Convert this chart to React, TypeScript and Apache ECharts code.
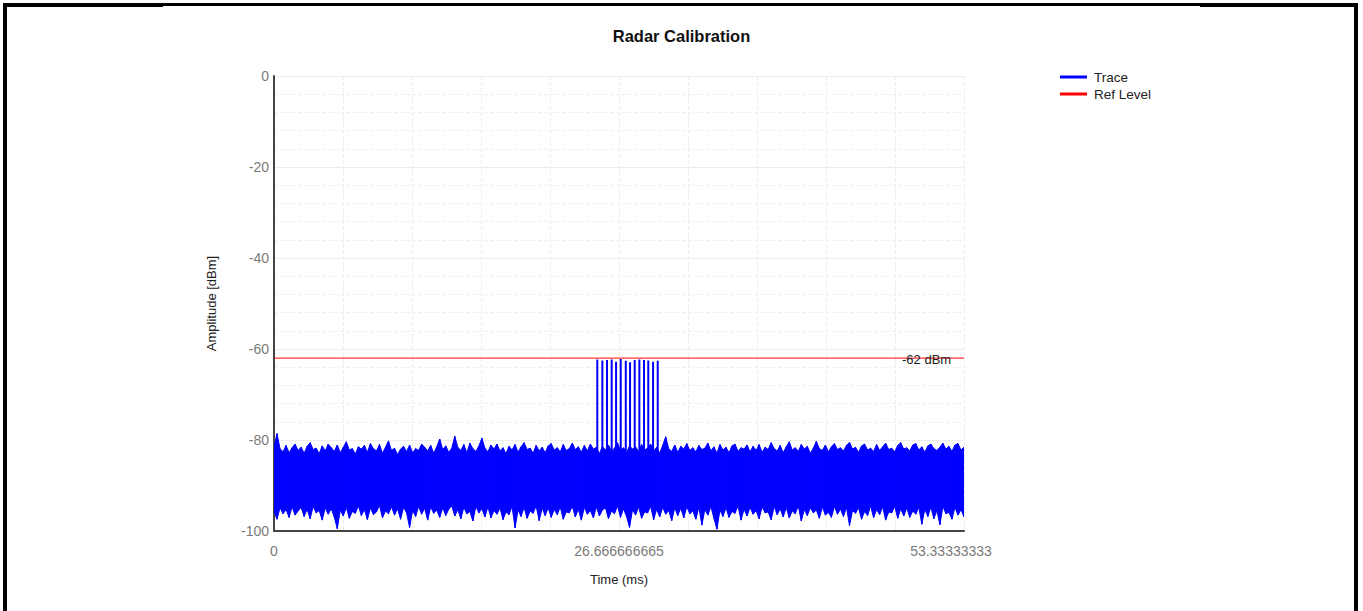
import React, { useEffect, useRef } from "react";
import * as echarts from "echarts";

// ---- Data ----
const TITLE = "Radar Calibration";
const X_NAME = "Time (ms)";
const Y_NAME = "Amplitude [dBm]";
const X_MIN = 0;
const X_MAX = 53.33333333;
const X_INTERVAL = 5.333333333;
const X_TICK_LABELS = ["0", "26.666666665", "53.33333333"];
const Y_MIN = -100;
const Y_MAX = 0;
const Y_INTERVAL = 20;
const REF_LEVEL = -62;
const REF_LABEL = "-62 dBm";

// Noise envelope of the trace (upper peaks / lower troughs), read column by column
const TRACE_UPPER = [
  -81.5, -78.6, -81.9, -82.6, -81.2, -82.8, -81.7, -80.9, -82.3, -81.6,
  -82.9, -81.4, -80.6, -82.1, -81.8, -83.0, -81.3, -82.4, -80.9, -81.7,
  -82.5, -81.1, -82.8, -81.6, -80.4, -82.2, -81.9, -83.1, -81.5, -82.0,
  -81.2, -82.7, -80.8, -81.9, -82.4, -81.0, -82.9, -81.6, -80.2, -82.3,
  -81.8, -83.2, -82.0, -81.4, -82.6, -81.1, -82.8, -81.9, -82.3, -80.9,
  -81.6, -82.4, -81.2, -82.9, -81.5, -79.8, -82.1, -81.3, -82.7, -81.8,
  -79.2, -81.6, -82.3, -81.0, -82.8, -80.7, -81.9, -82.5, -81.3, -79.6,
  -81.8, -82.6, -81.1, -82.0, -80.9, -82.4, -81.7, -83.0, -81.4, -82.2,
  -81.0, -82.7, -81.5, -80.6, -82.1, -81.8, -82.9, -81.2, -82.4, -81.6,
  -82.8, -81.3, -80.8, -82.2, -81.7, -82.6, -81.0, -82.3, -81.9, -80.7,
  -82.1, -81.5, -82.7, -81.2, -82.4, -80.9, -82.0, -81.6, -83.0, -81.4,
  -82.2, -81.1, -82.5, -81.8, -80.6, -82.3, -81.7, -82.8, -81.3, -82.0,
  -81.5, -82.6, -81.0, -82.2, -81.8, -80.9, -82.4, -81.6, -82.9, -81.2,
  -79.3, -81.9, -82.5, -81.1, -82.7, -81.4, -82.0, -80.8, -82.3, -81.7,
  -82.6, -81.2, -82.1, -81.8, -80.7, -82.4, -81.5, -82.9, -81.0, -82.2,
  -81.6, -82.8, -81.3, -80.9, -82.5, -81.7, -82.0, -81.1, -82.6, -81.4,
  -82.3, -81.0, -82.7, -81.6, -82.1, -80.6, -81.9, -82.4, -81.2, -82.8,
  -81.5, -80.4, -82.2, -81.7, -82.5, -81.0, -82.0, -81.4, -82.9, -81.8,
  -80.3, -81.9, -82.3, -81.1, -82.6, -81.5, -80.8, -82.1, -81.7, -82.4,
  -81.2, -80.5, -82.0, -81.6, -82.7, -81.3, -80.9, -82.2, -81.8, -82.5,
  -81.0, -82.3, -81.5, -80.7, -82.1, -81.8, -82.6, -81.2, -80.6, -82.0,
  -81.7, -82.4, -81.1, -80.8, -82.2, -81.5, -82.7, -81.3, -80.9, -81.9,
  -82.3, -81.6, -80.7, -82.0, -81.4, -82.5, -81.1, -80.8, -82.2, -81.6,
];
const TRACE_LOWER = [
  -95.8, -97.4, -94.9, -96.2, -95.3, -97.0, -94.7, -96.5, -95.6, -94.8,
  -96.8, -95.2, -97.3, -94.6, -96.0, -95.5, -97.6, -94.9, -96.3, -95.1,
  -96.9, -99.5, -95.4, -96.7, -94.8, -97.2, -95.7, -96.1, -94.5, -96.6,
  -95.3, -97.5, -94.9, -96.4, -95.8, -94.4, -97.1, -95.6, -96.2, -94.7,
  -96.5, -95.1, -97.4, -94.8, -96.0, -99.2, -95.5, -96.8, -94.6, -96.3,
  -95.0, -97.6, -94.7, -96.1, -95.4, -97.0, -94.9, -96.6, -95.2, -94.5,
  -96.7, -95.3, -97.3, -94.8, -96.2, -95.7, -97.8, -94.6, -96.0, -95.1,
  -96.9, -94.7, -97.1, -95.5, -96.3, -94.9, -97.5, -95.8, -96.4, -94.6,
  -99.3, -95.4, -96.8, -94.8, -97.2, -95.6, -96.1, -94.5, -97.7, -95.0,
  -96.6, -94.9, -97.0, -95.3, -96.4, -94.7, -97.4, -95.8, -96.0, -94.6,
  -96.9, -95.2, -97.6, -94.8, -96.3, -95.5, -97.1, -94.7, -96.7, -95.4,
  -94.9, -97.3, -95.6, -96.2, -94.5, -97.0, -95.1, -96.8, -99.2, -95.3,
  -96.5, -94.7, -97.2, -95.8, -96.0, -94.6, -97.5, -95.2, -96.9, -94.8,
  -96.3, -95.5, -97.7, -94.9, -96.6, -95.0, -97.1, -94.7, -96.2, -95.6,
  -97.4, -94.8, -98.7, -95.3, -96.5, -94.6, -97.2, -99.6, -95.4, -96.8,
  -94.9, -97.0, -95.7, -96.1, -94.5, -97.6, -95.2, -96.7, -94.8, -96.3,
  -95.5, -97.3, -94.7, -96.0, -95.8, -97.5, -94.6, -96.4, -95.1, -96.9,
  -94.8, -97.1, -95.6, -96.2, -94.5, -97.8, -95.3, -96.6, -94.9, -96.0,
  -95.4, -97.2, -94.7, -96.5, -95.9, -97.0, -94.6, -96.3, -95.2, -96.8,
  -94.8, -98.8, -95.5, -96.1, -94.9, -97.4, -95.7, -96.6, -94.5, -97.1,
  -95.3, -96.4, -94.7, -97.6, -95.8, -96.0, -94.6, -97.2, -95.1, -96.7,
  -94.9, -97.0, -95.6, -96.3, -94.8, -98.5, -95.2, -96.8, -94.7, -97.3,
  -95.5, -98.6, -94.6, -96.2, -95.9, -97.4, -94.8, -96.5, -95.3, -96.9,
];
// Radar pulses (time in ms, peak in dBm) and the level they rise from
const PULSE_TIMES = [
  24.99, 25.38, 25.74, 26.1, 26.44, 26.8, 27.19, 27.52, 27.88, 28.24, 28.6, 28.93, 29.3, 29.66,
];
const PULSE_PEAKS = [
  -62.3, -62.5, -62.4, -62.3, -62.8, -62.2, -62.6, -62.9, -62.4, -62.3, -62.4, -62.5, -62.8, -62.6,
];
const PULSE_BASE = -88;

const FONT = "'Liberation Sans', Arial, sans-serif";

export default function App() {
  const ref = useRef<HTMLDivElement>(null);

  useEffect(() => {
    if (!ref.current) return;
    const chart = echarts.init(ref.current, undefined, { renderer: "svg" });

    const n = TRACE_UPPER.length;
    const dt = (X_MAX - X_MIN) / (n - 1);
    const bandData: number[][] = [];
    for (let i = 0; i < n; i++) {
      bandData.push([X_MIN + i * dt, TRACE_UPPER[i], TRACE_LOWER[i]]);
    }
    const pulseData: number[][] = [];
    PULSE_TIMES.forEach((t, i) => {
      pulseData.push([t, PULSE_BASE], [t, PULSE_PEAKS[i]], [t, PULSE_BASE]);
    });

    const labelColor = "#7a7a7a";
    const gridColor = "#ededed";
    const blue = "#0000ff";

    chart.setOption({
      animation: false,
      textStyle: { fontFamily: FONT },
      title: {
        text: TITLE,
        left: "center",
        top: 22,
        textStyle: { fontFamily: FONT, fontSize: 16.5, fontWeight: "bold", color: "#111" },
      },
      legend: {
        orient: "vertical",
        left: 1055,
        top: 65,
        itemWidth: 27,
        itemHeight: 3,
        itemGap: 3,
        data: [
          { name: "Trace", icon: "rect" },
          { name: "Ref Level", icon: "rect" },
        ],
        textStyle: { fontFamily: FONT, fontSize: 13.5, color: "#222", padding: [0, 0, 0, 2] },
      },
      grid: { left: 274, top: 76, width: 690, height: 455, containLabel: false },
      xAxis: {
        type: "value",
        min: X_MIN,
        max: X_MAX,
        interval: X_INTERVAL,
        name: X_NAME,
        nameLocation: "middle",
        nameGap: 42,
        nameTextStyle: { fontFamily: FONT, fontSize: 13, color: "#222" },
        axisLine: { show: true, onZero: false, lineStyle: { color: "#444", width: 2 } },
        axisTick: { show: false },
        splitLine: { show: true, lineStyle: { color: gridColor, type: [4, 2], width: 1 } },
        axisLabel: {
          margin: 13,
          fontSize: 14,
          color: labelColor,
          fontFamily: FONT,
          showMinLabel: true,
          showMaxLabel: true,
          formatter: (v: number) => {
            if (Math.abs(v - X_MIN) < 1e-6) return X_TICK_LABELS[0];
            if (Math.abs(v - (X_MIN + X_MAX) / 2) < 1e-3) return X_TICK_LABELS[1];
            if (Math.abs(v - X_MAX) < 1e-3) return "{r|" + X_TICK_LABELS[2] + "}";
            return "";
          },
          rich: {
            r: { fontSize: 14, color: labelColor, fontFamily: FONT, padding: [0, 26, 0, 0] },
          },
        },
      },
      yAxis: {
        type: "value",
        min: Y_MIN,
        max: Y_MAX,
        interval: Y_INTERVAL,
        name: Y_NAME,
        nameLocation: "middle",
        nameGap: 56,
        nameTextStyle: { fontFamily: FONT, fontSize: 13, color: "#222" },
        axisLine: { show: true, onZero: false, lineStyle: { color: "#444", width: 2 } },
        axisTick: { show: false },
        axisLabel: { margin: 5, fontSize: 14, color: labelColor, fontFamily: FONT },
        splitLine: { show: true, lineStyle: { color: gridColor, width: 1 } },
        minorTick: { show: false, splitNumber: 5 },
        minorSplitLine: { show: true, lineStyle: { color: "#f1f1f1", type: [4, 2], width: 1 } },
      },
      series: [
        {
          name: "Trace",
          type: "custom",
          data: bandData,
          encode: { x: 0, y: [1, 2] },
          itemStyle: { color: blue },
          clip: true,
          z: 2,
          renderItem: (params: any, api: any) => {
            const i = params.dataIndex;
            if (i >= bandData.length - 1) return null;
            const a = bandData[i];
            const b = bandData[i + 1];
            const pts = [
              api.coord([a[0], a[1]]),
              api.coord([b[0], b[1]]),
              api.coord([b[0], b[2]]),
              api.coord([a[0], a[2]]),
            ];
            return {
              type: "polygon",
              shape: { points: pts },
              style: { fill: blue, stroke: blue, lineWidth: 1 },
            };
          },
        },
        {
          name: "Trace",
          type: "line",
          data: pulseData,
          showSymbol: false,
          symbol: "none",
          color: blue,
          lineStyle: { color: blue, width: 2 },
          z: 3,
        },
        {
          name: "Ref Level",
          type: "line",
          data: [
            [X_MIN, REF_LEVEL],
            [X_MAX, REF_LEVEL],
          ],
          showSymbol: false,
          symbol: "none",
          color: "#ff0000",
          lineStyle: { color: "#ff0000", width: 1 },
          endLabel: {
            show: true,
            formatter: REF_LABEL,
            fontFamily: FONT,
            fontSize: 13,
            color: "#222",
            offset: [-70, 1],
          },
          z: 4,
        },
      ],
    });

    return () => chart.dispose();
  }, []);

  return (
    <div style={{ position: "absolute", left: 0, top: 0, width: 1363, height: 611, overflow: "hidden", background: "#fff" }}>
      <div
        style={{
          position: "absolute",
          left: 3,
          top: 3,
          width: 1355,
          height: 620,
          border: "3px solid #000",
          borderLeftWidth: 4,
          borderRightWidth: 4,
          boxSizing: "border-box",
        }}
      />
      <div style={{ position: "absolute", left: 3, top: 6, width: 160, height: 1, background: "#000" }} />
      <div style={{ position: "absolute", left: 1200, top: 6, width: 158, height: 1, background: "#000" }} />
      <div ref={ref} style={{ position: "absolute", left: 0, top: 0, width: 1363, height: 611 }} />
    </div>
  );
}
